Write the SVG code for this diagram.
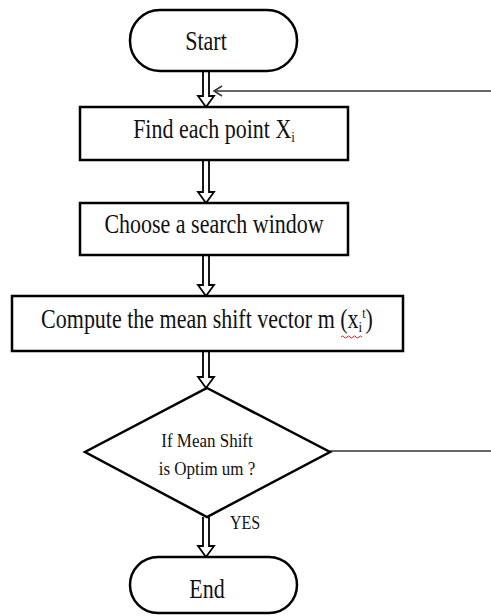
<svg xmlns="http://www.w3.org/2000/svg" width="491" height="616" viewBox="0 0 491 616">
  <style>
    .shape { fill: #ffffff; stroke: #000000; stroke-width: 2.5; }
    .label { font-family: "Liberation Serif", "Times New Roman", serif; fill: #111111; text-anchor: middle; }
    .big { font-size: 22px; }
    .small { font-size: 17px; }
    .flow { fill: #ffffff; stroke: #000000; stroke-width: 1.8; stroke-linejoin: miter; }
    .loop { fill: none; stroke: #333333; stroke-width: 1.5; }
  </style>

  <rect width="491" height="616" fill="#ffffff"/>

  <!-- connectors: hollow block arrows and the loop-back line -->
  <g id="connectors">
    <path class="flow" d="M203,71 L203,96 L198,96 L206,107 L214,96 L209,96 L209,71"/>
    <path class="flow" d="M203,160 L203,192 L198,192 L206,203 L214,192 L209,192 L209,160"/>
    <path class="flow" d="M203,255 L203,285 L198,285 L206,296 L214,285 L209,285 L209,255"/>
    <path class="flow" d="M203,351 L203,377 L198,377 L206,388 L214,377 L209,377 L209,351"/>
    <path class="flow" d="M203,517 L203,546 L198,546 L206,557 L214,546 L209,546 L209,517"/>
    <line class="loop" x1="330" y1="451" x2="491" y2="451"/>
    <line class="loop" x1="491" y1="91" x2="214" y2="91"/>
    <polyline class="loop" points="222,86 214,91 222,96"/>
    <text class="label" font-size="16" transform="translate(245,529) scale(1,1.2)">YES</text>
  </g>

  <g id="start">
    <rect class="shape" x="130" y="10" width="167" height="61" rx="30" ry="30"/>
    <text class="label big" transform="translate(206,50) scale(1,1.2)">Start</text>
  </g>

  <g id="find-point">
    <rect class="shape" x="80" y="107" width="268" height="53"/>
    <text class="label big" transform="translate(214,138) scale(1,1.2)">Find each point X<tspan font-size="13" dy="3">i</tspan></text>
  </g>

  <g id="search-window">
    <rect class="shape" x="80" y="203" width="268" height="52"/>
    <text class="label big" transform="translate(214,233) scale(1,1.2)">Choose a search window</text>
  </g>

  <g id="mean-shift">
    <rect class="shape" x="12" y="296" width="391" height="55"/>
    <text class="label big" transform="translate(207,328) scale(1,1.2)">Compute the mean shift vector m (x<tspan font-size="13" dy="3">i</tspan><tspan font-size="12" dy="-11">t</tspan><tspan dy="8">)</tspan></text>
    <path d="M341,337 q1.5,-2 3,0 t3,0 t3,0 t3,0 t3,0 t3,0 t3,0" fill="none" stroke="#e02020" stroke-width="1"/>
  </g>

  <g id="optimum-check">
    <polygon class="shape" points="207,388 330,452 207,517 85,452"/>
    <text class="label small" transform="translate(207,447) scale(1,1.15)">If Mean Shift</text>
    <text class="label small" transform="translate(207,475) scale(1,1.15)">is Optim um ?</text>
  </g>

  <g id="end">
    <rect class="shape" x="130" y="557" width="167" height="56" rx="28" ry="28"/>
    <text class="label big" transform="translate(207,598) scale(1,1.2)">End</text>
  </g>
</svg>
